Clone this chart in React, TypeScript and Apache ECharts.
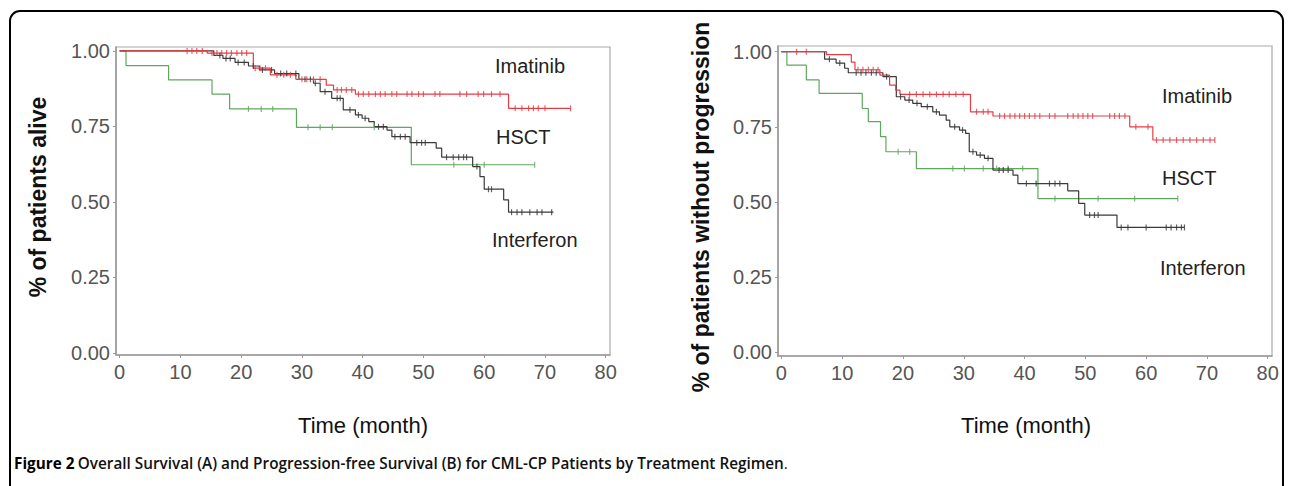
import React, { useEffect, useRef } from "react";
import * as echarts from "echarts";

// ---------- Data ----------
const xTicks = [0, 10, 20, 30, 40, 50, 60, 70, 80];
const yTicks = [0, 0.25, 0.5, 0.75, 1];

// Panel A: overall survival  [time (month), survival]
const imatinibOS = [[0, 1], [14.4, 0.993], [22.0, 0.943], [24.8, 0.921], [29.0, 0.906], [34.0, 0.887], [35.2, 0.871], [38.8, 0.857], [64.0, 0.81]];
const imatinibOSEnd = 74.2;
const imatinibOSCens = [11.1, 11.9, 12.7, 13.6, 15.2, 16.0, 16.8, 17.6, 18.4, 19.3, 20.1, 20.9, 22.3, 23.1, 24.0, 25.9, 27.0, 28.1, 30.0, 30.8, 31.9, 33.0, 35.8, 36.5, 37.3, 38.2, 39.3, 40.1, 41.0, 42.1, 42.9, 43.7, 44.8, 45.6, 47.3, 48.1, 49.2, 50.0, 51.9, 52.7, 56.0, 57.1, 59.0, 59.9, 61.2, 62.6, 65.1, 66.2, 67.3, 68.1, 68.9, 70.0, 74.2];

const interferonOS = [[0, 1], [15.5, 0.985], [17, 0.975], [19, 0.962], [21.2, 0.95], [23, 0.937], [25.5, 0.925], [29.5, 0.906], [31.9, 0.893], [33.0, 0.865], [34.9, 0.843], [36.8, 0.805], [38.8, 0.788], [39.9, 0.777], [41.0, 0.766], [41.9, 0.749], [44.0, 0.738], [44.8, 0.716], [47.8, 0.696], [52.1, 0.678], [53.0, 0.648], [58.1, 0.617], [59.3, 0.584], [60.0, 0.542], [63.2, 0.507], [64.0, 0.466]];
const interferonOSEnd = 71.4;
const interferonOSCens = [16.5, 17.5, 18.2, 19.5, 20.5, 22.0, 23.5, 25.0, 26.5, 27.5, 29.0, 30.5, 31.4, 32.2, 33.8, 35.8, 36.3, 37.9, 39.3, 40.4, 42.6, 43.4, 45.3, 46.2, 47.0, 48.9, 49.7, 50.3, 53.8, 54.9, 55.8, 56.6, 57.1, 58.8, 60.7, 61.2, 64.5, 65.4, 66.2, 67.5, 68.7, 69.5, 71.1];

const hsctOS = [[0, 1], [1.05, 0.951], [8.06, 0.904], [15.2, 0.857], [18.1, 0.808], [29.1, 0.747], [48.0, 0.623]];
const hsctOSEnd = 68.3;
const hsctOSCens = [21.2, 23.3, 25.2, 31.0, 33.0, 35.0, 41.9, 55.0, 60.0, 68.3];

// Panel B: progression-free survival
const imatinibPFS = [[0, 1], [7.4, 0.99], [11.5, 0.965], [12.1, 0.94], [16.2, 0.922], [17.8, 0.889], [18.8, 0.872], [19.5, 0.858], [31.1, 0.8], [34.8, 0.786], [57.3, 0.75], [61.1, 0.706]];
const imatinibPFSEnd = 71.3;
const imatinibPFSCens = [2.5, 4.1, 12.6, 13.4, 14.3, 15.1, 15.9, 21.1, 22.2, 23.3, 24.4, 25.5, 26.6, 27.6, 28.7, 29.9, 32.1, 33.2, 34.0, 35.9, 36.7, 37.6, 38.4, 39.2, 40.0, 40.8, 41.7, 42.5, 44.1, 45.0, 47.1, 48.0, 48.8, 49.6, 50.4, 51.2, 54.0, 54.8, 55.6, 56.5, 58.3, 60.3, 61.7, 62.8, 63.9, 65.0, 66.1, 67.2, 68.3, 69.4, 70.5, 71.3];

const interferonPFS = [[0, 1], [7.1, 0.975], [9.0, 0.962], [10.4, 0.945], [11.0, 0.93], [16.7, 0.917], [18.9, 0.85], [20.3, 0.839], [21.6, 0.828], [23.0, 0.817], [24.9, 0.8], [26.0, 0.789], [27.1, 0.772], [27.7, 0.75], [29.3, 0.739], [30.3, 0.728], [30.9, 0.667], [32.1, 0.656], [33.4, 0.645], [34.8, 0.606], [38.1, 0.589], [38.9, 0.561], [47.1, 0.537], [48.9, 0.495], [49.9, 0.456], [55.2, 0.415]];
const interferonPFSEnd = 66.3;
const interferonPFSCens = [7.9, 9.6, 12.3, 13.1, 13.9, 14.8, 15.6, 17.3, 19.6, 21.0, 22.3, 24.0, 25.5, 28.5, 29.8, 31.5, 32.7, 34.0, 35.8, 36.5, 37.3, 40.3, 41.9, 44.1, 45.0, 45.8, 50.7, 51.5, 52.1, 55.9, 57.0, 60.0, 63.3, 64.1, 65.0, 65.8, 66.3];

const hsctPFS = [[0, 1], [0.9, 0.955], [4.1, 0.906], [6.2, 0.861], [13.3, 0.811], [14.3, 0.767], [16.3, 0.717], [17.2, 0.667], [22.2, 0.611], [42.2, 0.511]];
const hsctPFSEnd = 65.2;
const hsctPFSCens = [19.2, 21.1, 28.2, 30.1, 33.2, 35.4, 37.3, 39.7, 45.0, 52.1, 58.1, 65.2];

const groupNames = ["Imatinib", "HSCT", "Interferon"];
const caption = "Overall Survival (A) and Progression-free Survival (B) for CML-CP Patients by Treatment Regimen";

// ---------- Styling ----------
const RED = "#e63c44";
const GREEN = "#5ea85e";
const DARK = "#3a3a3a";
const FONT = "'Liberation Sans', Arial, sans-serif";

function survAt(events: number[][], t: number) {
  let v = 1;
  for (const [et, ev] of events) if (et <= t) v = ev;
  return v;
}

function curveSeries(events: number[][], end: number, cens: number[], color: string, idx: number) {
  const last = events[events.length - 1][1];
  return [
    {
      type: "line",
      xAxisIndex: idx,
      yAxisIndex: idx,
      step: "end",
      showSymbol: false,
      symbol: "none",
      silent: true,
      lineStyle: { color, width: 1.2 },
      data: [...events, [end, last]],
      z: 3,
    },
    {
      type: "scatter",
      xAxisIndex: idx,
      yAxisIndex: idx,
      symbol: "rect",
      symbolSize: [1.2, 6],
      silent: true,
      itemStyle: { color },
      data: cens.map((t) => [t, survAt(events, t)]),
      z: 4,
    },
  ];
}

function axisPair(idx: number, xmin: number, xmax: number, ymin: number, ymax: number) {
  const lineStyle = { color: "#999", width: 1.5 };
  const label = { color: "#555", fontSize: 20, fontFamily: FONT };
  return {
    x: {
      type: "value",
      gridIndex: idx,
      min: xmin,
      max: xmax,
      axisLine: { show: true, onZero: false, lineStyle },
      axisTick: { show: true, length: 3, lineStyle: { color: "#999" }, customValues: xTicks },
      axisLabel: { ...label, margin: 7, customValues: xTicks, formatter: (v: number) => String(v) },
      splitLine: { show: false },
    },
    y: {
      type: "value",
      gridIndex: idx,
      min: ymin,
      max: ymax,
      axisLine: { show: true, onZero: false, lineStyle },
      axisTick: { show: true, length: 3, lineStyle: { color: "#999" }, customValues: yTicks },
      axisLabel: { ...label, margin: 6, customValues: yTicks, formatter: (v: number) => v.toFixed(2) },
      splitLine: { show: false },
    },
  };
}

export default function App() {
  const ref = useRef<HTMLDivElement>(null);
  useEffect(() => {
    if (!ref.current) return;
    const chart = echarts.init(ref.current, null, { renderer: "svg" });
    const a = axisPair(0, -0.6, 80.7, -0.007, 1.013);
    const b = axisPair(1, -0.56, 80.7, -0.013, 1.019);
    const labelStyle = { fill: "#222", fontSize: 20, fontFamily: FONT };
    const titleStyle = { fill: "#111", fontSize: 22, fontFamily: FONT };
    const yNameStyle = { fill: "#111", fontSize: 23, fontWeight: "bold", fontFamily: FONT, align: "center", verticalAlign: "middle" };
    const capFont = "'Open Sans', sans-serif";
    chart.setOption({
      animation: false,
      backgroundColor: "#fff",
      textStyle: { fontFamily: FONT },
      grid: [
        { left: 116, top: 47, width: 494, height: 308, show: true, borderColor: "#aaa", borderWidth: 1.2, backgroundColor: "transparent" },
        { left: 778, top: 46, width: 494, height: 310, show: true, borderColor: "#aaa", borderWidth: 1.2, backgroundColor: "transparent" },
      ],
      xAxis: [a.x, b.x],
      yAxis: [a.y, b.y],
      series: [
        ...curveSeries(hsctOS, hsctOSEnd, hsctOSCens, GREEN, 0),
        ...curveSeries(interferonOS, interferonOSEnd, interferonOSCens, DARK, 0),
        ...curveSeries(imatinibOS, imatinibOSEnd, imatinibOSCens, RED, 0),
        ...curveSeries(hsctPFS, hsctPFSEnd, hsctPFSCens, GREEN, 1),
        ...curveSeries(interferonPFS, interferonPFSEnd, interferonPFSCens, DARK, 1),
        ...curveSeries(imatinibPFS, imatinibPFSEnd, imatinibPFSCens, RED, 1),
      ],
      graphic: [
        {
          type: "rect",
          shape: { x: 10, y: 11, width: 1273, height: 520, r: 10 },
          style: { fill: "none", stroke: "#000", lineWidth: 2 },
          silent: true,
        },
        // group labels panel A
        { type: "text", x: 495, y: 66, style: { ...labelStyle, text: groupNames[0], verticalAlign: "middle" } },
        { type: "text", x: 496, y: 137, style: { ...labelStyle, text: groupNames[1], verticalAlign: "middle" } },
        { type: "text", x: 492, y: 240, style: { ...labelStyle, text: groupNames[2], verticalAlign: "middle" } },
        // group labels panel B
        { type: "text", x: 1162, y: 96, style: { ...labelStyle, text: groupNames[0], verticalAlign: "middle" } },
        { type: "text", x: 1162, y: 178, style: { ...labelStyle, text: groupNames[1], verticalAlign: "middle" } },
        { type: "text", x: 1160, y: 268, style: { ...labelStyle, text: groupNames[2], verticalAlign: "middle" } },
        // axis titles
        { type: "text", x: 363, y: 425, style: { ...titleStyle, text: "Time (month)", align: "center", verticalAlign: "middle" } },
        { type: "text", x: 1026, y: 425, style: { ...titleStyle, text: "Time (month)", align: "center", verticalAlign: "middle" } },
        { type: "text", x: 38, y: 197, rotation: Math.PI / 2, style: { ...yNameStyle, text: "% of patients alive" } },
        { type: "text", x: 701, y: 207, rotation: Math.PI / 2, style: { ...yNameStyle, text: "% of patients without progression" } },
        // caption
        {
          type: "text",
          x: 14,
          y: 463,
          style: {
            text: "{b|Figure 2} {t|" + caption + "}{p|.}",
            verticalAlign: "middle",
            rich: {
              b: { fontFamily: capFont, fontWeight: "bold", fontSize: 15.3, fill: "#000" },
              t: { fontFamily: capFont, fontWeight: 600, fontSize: 15.3, fill: "#111" },
              p: { fontFamily: capFont, fontWeight: "normal", fontSize: 15.3, fill: "#111" },
            },
          },
        },
      ],
    });
    return () => chart.dispose();
  }, []);
  return <div ref={ref} style={{ position: "absolute", left: 0, top: 0, width: 1290, height: 486 }} />;
}
